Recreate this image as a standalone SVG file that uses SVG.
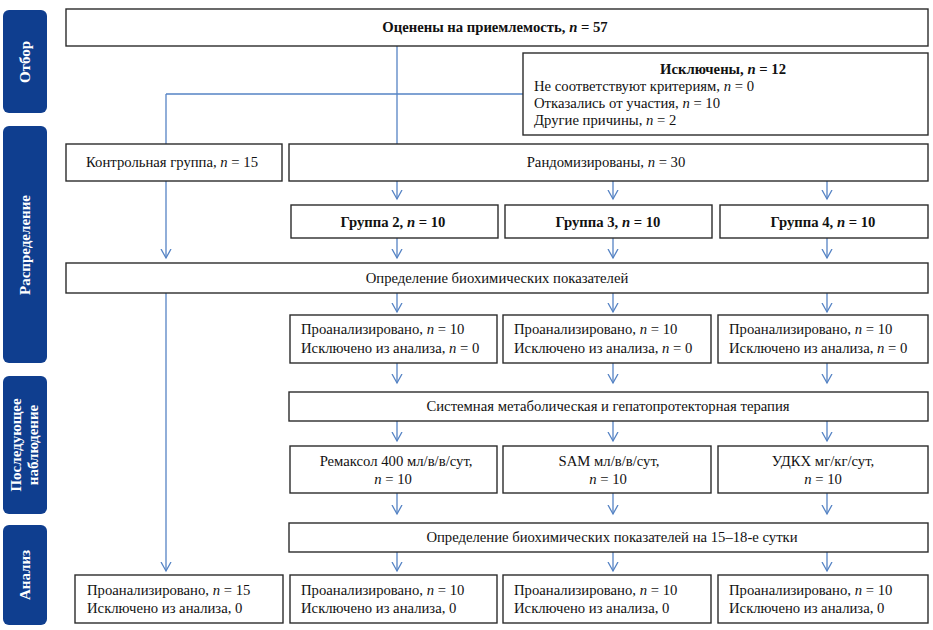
<svg xmlns="http://www.w3.org/2000/svg" width="933" height="630" viewBox="0 0 933 630">
<style>
.bx{fill:#fff;stroke:#2b2b2b;stroke-width:1.4}
.t{font-family:"Liberation Serif","Times New Roman",serif;font-size:14.7px;fill:#111}
.c{text-anchor:middle}
.b{font-weight:bold}
.side{fill:#0f3e8f}
.st{font-family:"Liberation Serif","Times New Roman",serif;font-size:15px;font-weight:bold;fill:#fff;text-anchor:middle}
.ln{fill:none;stroke:#5583c4;stroke-width:1.3}
</style>
<defs>
<marker id="v" markerUnits="userSpaceOnUse" markerWidth="12" markerHeight="12" refX="9" refY="5.5" orient="auto">
<path d="M0,0.5 L9,5.5 L0,10.5" fill="none" stroke="#5583c4" stroke-width="1.3"/>
</marker>
</defs>
<rect width="933" height="630" fill="#fff"/>

<g id="side-otbor"><rect class="side" x="3" y="10" width="44" height="103" rx="6"/><text class="st" transform="translate(25,62) rotate(-90)" y="5">Отбор</text></g>
<g id="side-raspr"><rect class="side" x="3" y="126" width="44" height="237" rx="6"/><text class="st" transform="translate(25,245) rotate(-90)" y="5">Распределение</text></g>
<g id="side-posl"><rect class="side" x="3" y="376" width="44" height="138" rx="6"/><text class="st" transform="translate(25,445) rotate(-90)"><tspan x="0" y="-4">Последующее</tspan><tspan x="0" y="13">наблюдение</tspan></text></g>
<g id="side-analiz"><rect class="side" x="3" y="525" width="44" height="100" rx="6"/><text class="st" transform="translate(25,575) rotate(-90)" y="5">Анализ</text></g>

<g id="connectors">
<path class="ln" d="M397,46 V144"/>
<path class="ln" d="M166,94 H523"/>
<path class="ln" d="M166,94 V144"/>
<path class="ln" d="M166,181 V258" marker-end="url(#v)"/>
<path class="ln" d="M166,293 V571" marker-end="url(#v)"/>
<path class="ln" d="M397,181 V199" marker-end="url(#v)"/>
<path class="ln" d="M613,181 V199" marker-end="url(#v)"/>
<path class="ln" d="M827,181 V199" marker-end="url(#v)"/>
<path class="ln" d="M397,238 V258" marker-end="url(#v)"/>
<path class="ln" d="M613,238 V258" marker-end="url(#v)"/>
<path class="ln" d="M827,238 V258" marker-end="url(#v)"/>
<path class="ln" d="M397,293 V312" marker-end="url(#v)"/>
<path class="ln" d="M613,293 V312" marker-end="url(#v)"/>
<path class="ln" d="M827,293 V312" marker-end="url(#v)"/>
<path class="ln" d="M397,363 V383" marker-end="url(#v)"/>
<path class="ln" d="M613,363 V383" marker-end="url(#v)"/>
<path class="ln" d="M827,363 V383" marker-end="url(#v)"/>
<path class="ln" d="M397,421 V441" marker-end="url(#v)"/>
<path class="ln" d="M613,421 V441" marker-end="url(#v)"/>
<path class="ln" d="M827,421 V441" marker-end="url(#v)"/>
<path class="ln" d="M397,493 V514" marker-end="url(#v)"/>
<path class="ln" d="M613,493 V514" marker-end="url(#v)"/>
<path class="ln" d="M827,493 V514" marker-end="url(#v)"/>
<path class="ln" d="M397,552 V571" marker-end="url(#v)"/>
<path class="ln" d="M613,552 V571" marker-end="url(#v)"/>
<path class="ln" d="M827,552 V571" marker-end="url(#v)"/>
</g>

<g id="assessed"><rect class="bx" x="66" y="9" width="862" height="37"/><text class="t c b" x="495" y="32">Оценены на приемлемость, <tspan font-style="italic">n</tspan> = 57</text></g>
<g id="excluded"><rect class="bx" x="523" y="53" width="405" height="82"/>
<text class="t c b" x="723" y="74">Исключены, <tspan font-style="italic">n</tspan> = 12</text>
<text class="t" x="534" y="91">Не соответствуют критериям,  <tspan font-style="italic">n</tspan> = 0</text>
<text class="t" x="534" y="108">Отказались от участия, <tspan font-style="italic">n</tspan> = 10</text>
<text class="t" x="534" y="125">Другие причины, <tspan font-style="italic">n</tspan> = 2</text></g>
<g id="control"><rect class="bx" x="66" y="144" width="216" height="37"/><text class="t c" x="172" y="167">Контрольная группа, <tspan font-style="italic">n</tspan> = 15</text></g>
<g id="randomized"><rect class="bx" x="289" y="144" width="639" height="37"/><text class="t c" x="606" y="167">Рандомизированы, <tspan font-style="italic">n</tspan> = 30</text></g>

<g id="group2"><rect class="bx" x="291" y="205" width="207" height="33"/><text class="t c b" x="393" y="227">Группа 2, <tspan font-style="italic">n</tspan> = 10</text></g>
<g id="group3"><rect class="bx" x="505" y="205" width="207" height="33"/><text class="t c b" x="608" y="227">Группа 3, <tspan font-style="italic">n</tspan> = 10</text></g>
<g id="group4"><rect class="bx" x="720" y="205" width="208" height="33"/><text class="t c b" x="823" y="227">Группа 4, <tspan font-style="italic">n</tspan> = 10</text></g>

<g id="biochem1"><rect class="bx" x="66" y="263" width="862" height="30"/><text class="t c" x="497" y="283">Определение биохимических показателей</text></g>

<g id="an2"><rect class="bx" x="290" y="315" width="207" height="48"/><text class="t" x="301" y="334">Проанализировано, <tspan font-style="italic">n</tspan> = 10</text><text class="t" x="301" y="353">Исключено из анализа, <tspan font-style="italic">n</tspan> = 0</text></g>
<g id="an3"><rect class="bx" x="503" y="315" width="208" height="48"/><text class="t" x="514" y="334">Проанализировано, <tspan font-style="italic">n</tspan> = 10</text><text class="t" x="514" y="353">Исключено из анализа, <tspan font-style="italic">n</tspan> = 0</text></g>
<g id="an4"><rect class="bx" x="718" y="315" width="210" height="48"/><text class="t" x="729" y="334">Проанализировано, <tspan font-style="italic">n</tspan> = 10</text><text class="t" x="729" y="353">Исключено из анализа, <tspan font-style="italic">n</tspan> = 0</text></g>

<g id="therapy"><rect class="bx" x="289" y="392" width="639" height="29"/><text class="t c" x="608" y="411">Системная метаболическая и гепатопротекторная терапия</text></g>

<g id="remaxol"><rect class="bx" x="290" y="446" width="207" height="47"/><text class="t c" x="396" y="466">Ремаксол 400 мл/в/в/сут,</text><text class="t c" x="393" y="484"><tspan font-style="italic">n</tspan> = 10</text></g>
<g id="sam"><rect class="bx" x="503" y="446" width="208" height="47"/><text class="t c" x="609" y="466">SAM мл/в/в/сут,</text><text class="t c" x="608" y="484"><tspan font-style="italic">n</tspan> = 10</text></g>
<g id="udca"><rect class="bx" x="718" y="446" width="210" height="47"/><text class="t c" x="823" y="466">УДКХ мг/кг/сут,</text><text class="t c" x="823" y="484"><tspan font-style="italic">n</tspan> = 10</text></g>

<g id="biochem2"><rect class="bx" x="289" y="523" width="639" height="29"/><text class="t c" x="612" y="542">Определение биохимических показателей на 15–18-е сутки</text></g>

<g id="fin1"><rect class="bx" x="75" y="575" width="208" height="48"/><text class="t" x="87" y="595">Проанализировано, <tspan font-style="italic">n</tspan> = 15</text><text class="t" x="87" y="613">Исключено из анализа, 0</text></g>
<g id="fin2"><rect class="bx" x="290" y="575" width="207" height="48"/><text class="t" x="301" y="595">Проанализировано, <tspan font-style="italic">n</tspan> = 10</text><text class="t" x="301" y="613">Исключено из анализа, 0</text></g>
<g id="fin3"><rect class="bx" x="503" y="575" width="208" height="48"/><text class="t" x="514" y="595">Проанализировано, <tspan font-style="italic">n</tspan> = 10</text><text class="t" x="514" y="613">Исключено из анализа, 0</text></g>
<g id="fin4"><rect class="bx" x="718" y="575" width="210" height="48"/><text class="t" x="729" y="595">Проанализировано, <tspan font-style="italic">n</tspan> = 10</text><text class="t" x="729" y="613">Исключено из анализа, 0</text></g>
</svg>
